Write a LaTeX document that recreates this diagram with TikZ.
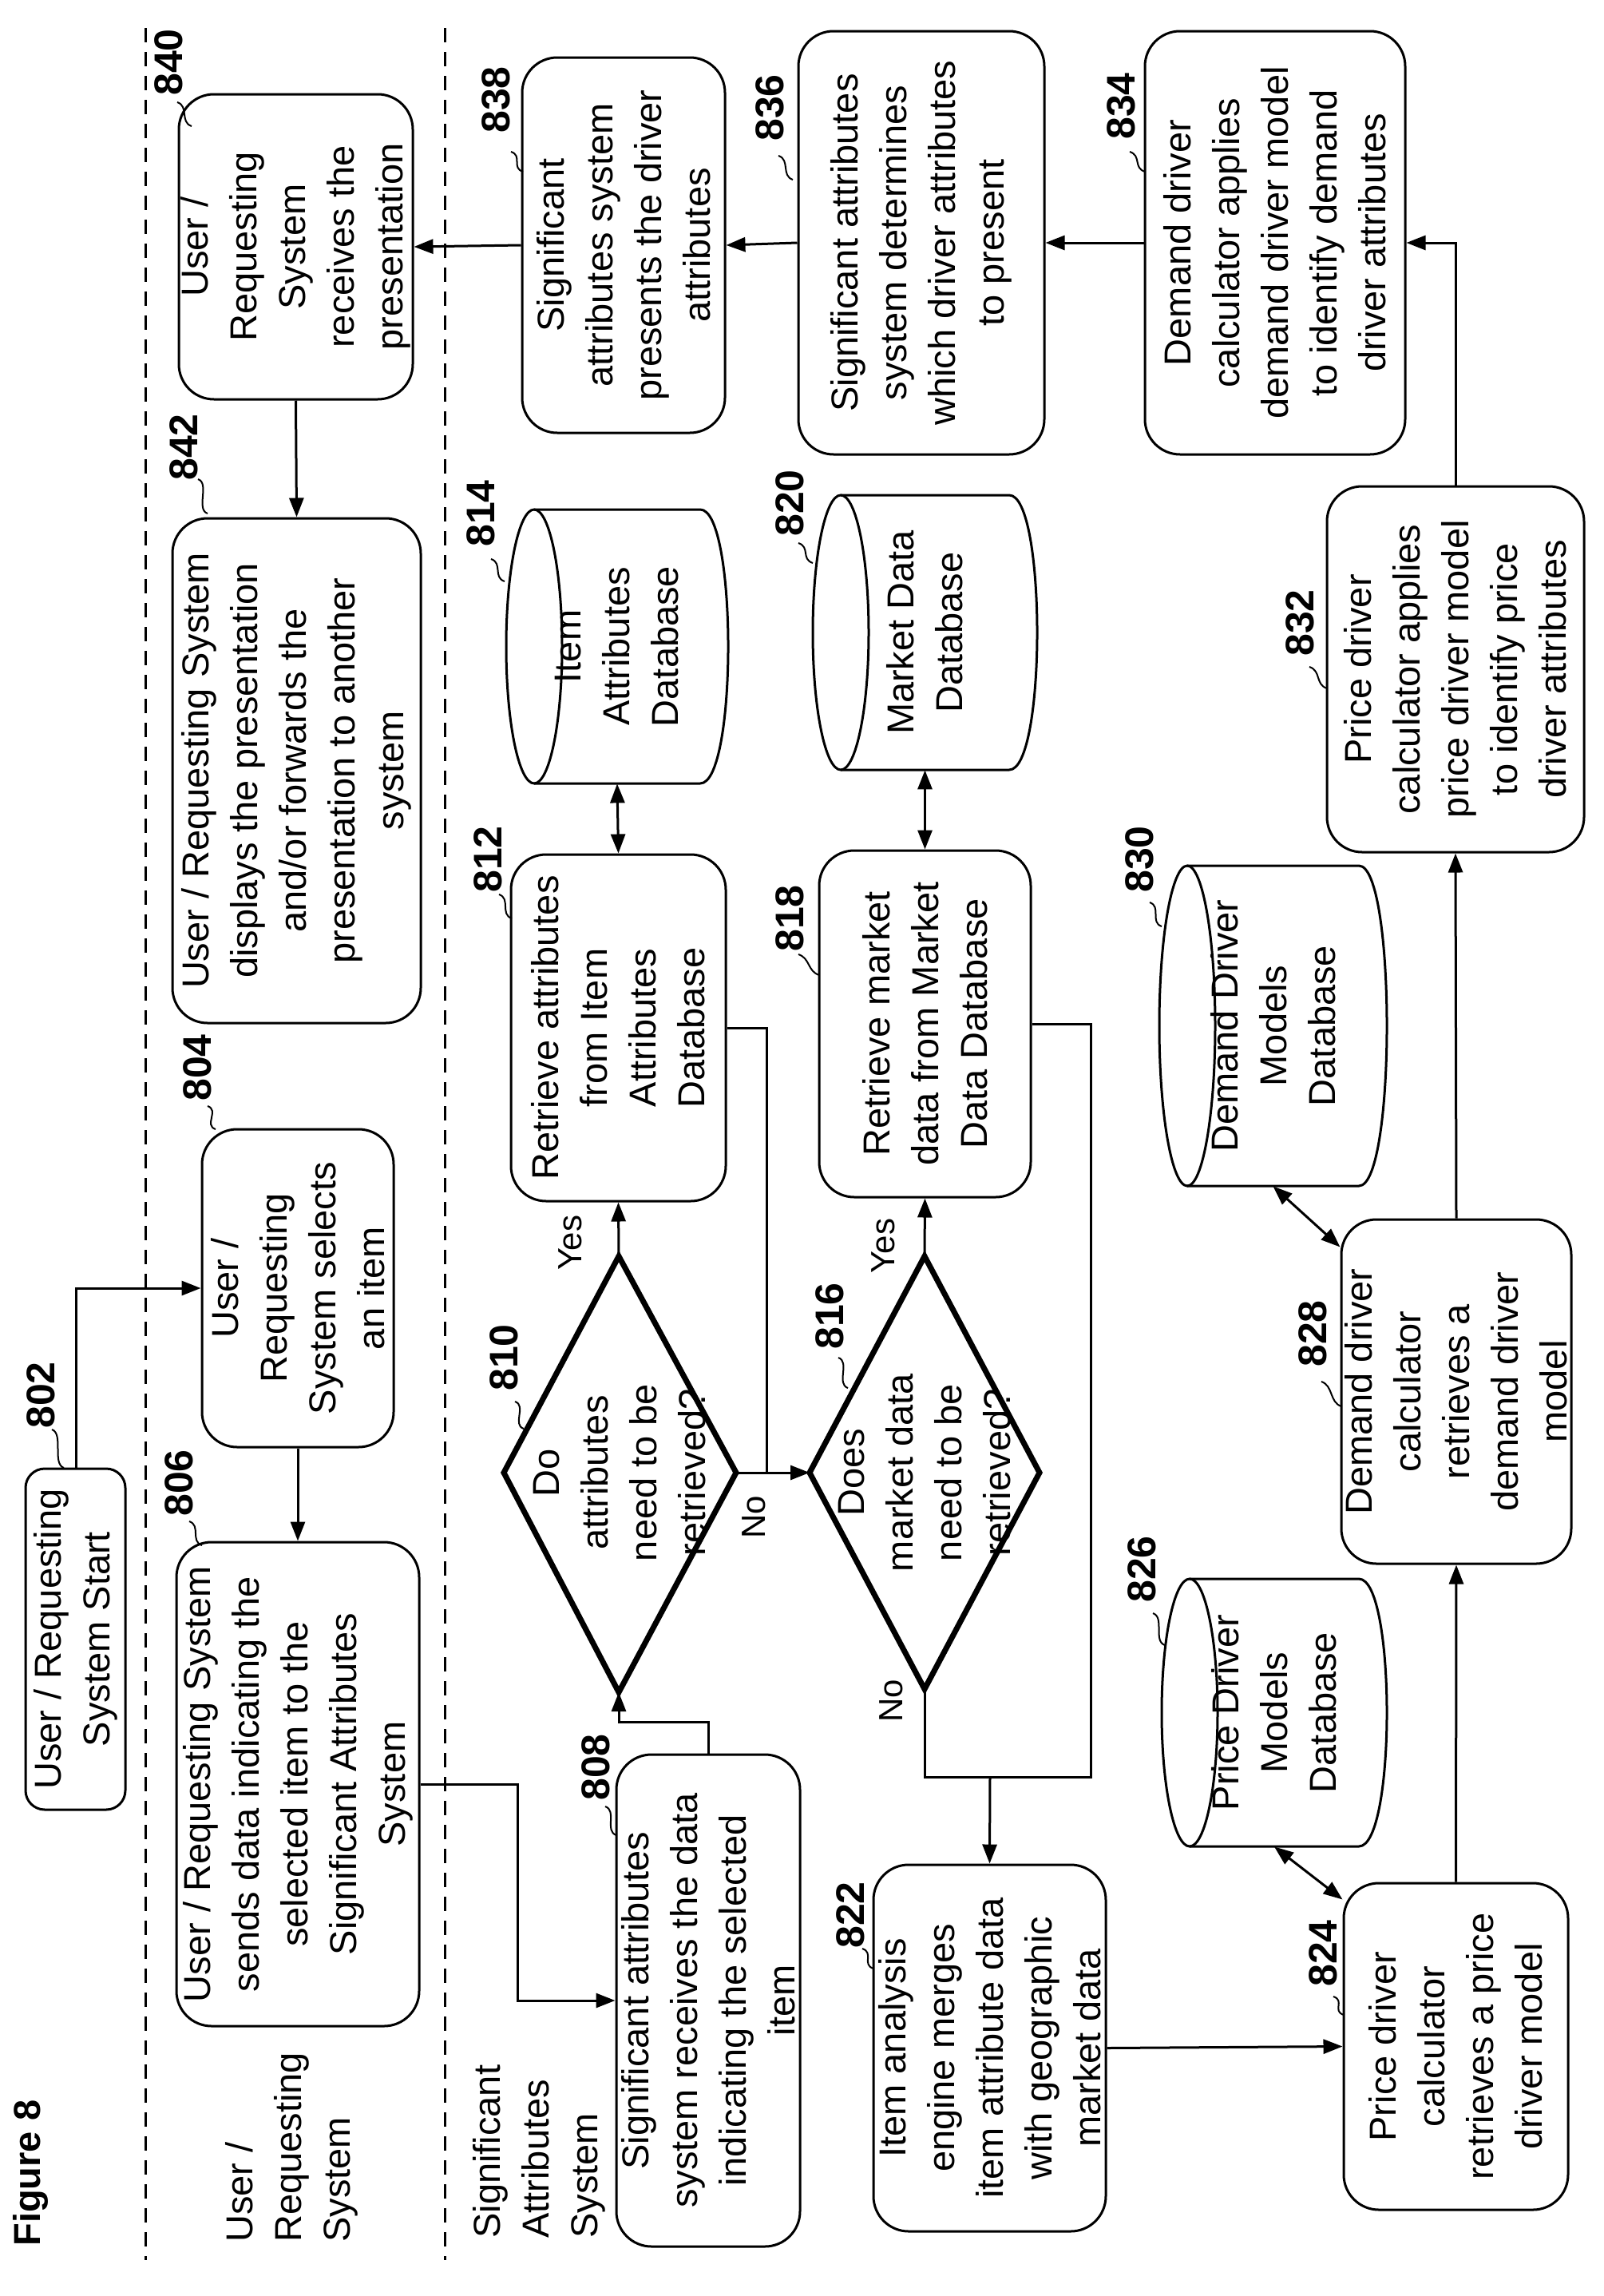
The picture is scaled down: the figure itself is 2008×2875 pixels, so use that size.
\documentclass[tikz,border=0pt]{standalone}
\usepackage{fontspec}
\setmainfont{Liberation Sans}
\usetikzlibrary{arrows.meta}
\begin{document}
\begin{tikzpicture}[x=0.5pt,y=-0.5pt,
  txt/.style={rotate=90, align=center, inner sep=0pt, font=\fontsize{23.5}{30.5}\selectfont},
  box/.style 2 args={txt, draw, line width=1.5pt, rounded corners=22pt, minimum width=#1, minimum height=#2},
  cyl/.style 2 args={txt, minimum width=#1, minimum height=#2},
  num/.style={rotate=90, inner sep=0pt, font=\fontsize{25}{25}\selectfont\bfseries},
  yn/.style={rotate=90, inner sep=0pt, font=\fontsize{21}{21}\selectfont},
  lane/.style={rotate=90, anchor=west, align=left, inner sep=0pt, font=\fontsize{23.5}{30.5}\selectfont},
  ln/.style={line width=1.5pt},
  arr/.style={ln, -{Triangle[length=12pt,width=9pt]}},
  darr/.style={ln, {Triangle[length=12pt,width=9pt]}-{Triangle[length=12pt,width=9pt]}},
  lead/.style={line width=1pt},
  dia/.style={line width=3.5pt, line join=miter},
  laneline/.style={line width=1.5pt, dash pattern=on 9pt off 6pt}
]
\useasboundingbox (0,0) rectangle (2008,2875);
\fill[white] (0,0) rectangle (2008,2875);

% lanes
\draw[laneline] (182,35) -- (182,2830);
\draw[laneline] (557,35) -- (557,2830);
\node[lane, font=\fontsize{23.5}{30.5}\selectfont\bfseries] (fig) at (38,2813) {Figure 8};
\node[lane] (laneU) at (365,2808) {User /\\Requesting\\System};
\node[lane] (laneS) at (675,2803) {Significant\\Attributes\\System};

% boxes
\node[box={191pt}{146.5pt}] (b840) at (370.5,309) {User /\\Requesting\\System\\receives the\\presentation};
\node[box={316pt}{155.5pt}] (b842) at (371.5,965) {User / Requesting System\\displays the presentation\\and/or forwards the\\presentation to another\\system};
\node[box={235pt}{127pt}] (b838) at (781,307) {Significant\\attributes system\\presents the driver\\attributes};
\node[box={265pt}{154pt}] (b836) at (1154,304) {Significant attributes\\system determines\\which driver attributes\\to present};
\node[box={265pt}{163pt}] (b834) at (1597,304) {Demand driver\\calculator applies\\demand driver model\\to identify demand\\driver attributes};
\node[box={229pt}{161pt}] (b832) at (1823,838) {Price driver\\calculator applies\\price driver model\\to identify price\\driver attributes};
\node[box={217pt}{134.5pt}] (b812) at (774.5,1287) {Retrieve attributes\\from Item\\Attributes\\Database};
\node[box={217pt}{132.5pt}] (b818) at (1158.5,1282) {Retrieve market\\data from Market\\Data Database};
\node[box={213.5pt}{62.5pt}, rounded corners=12pt] (b802) at (94.5,2052.5) {User / Requesting\\System Start};
\node[box={199pt}{120pt}] (b804) at (373,1613) {User /\\Requesting\\System selects\\an item};
\node[box={303pt}{152pt}] (b806) at (373,2234) {User / Requesting System\\sends data indicating the\\selected item to the\\Significant Attributes\\System};
\node[box={308pt}{115pt}] (b808) at (887,2505) {Significant attributes\\system receives the data\\indicating the selected\\item};
\node[box={229.5pt}{145.5pt}] (b822) at (1239.5,2564.5) {Item analysis\\engine merges\\item attribute data\\with geographic\\market data};
\node[box={204.5pt}{140.5pt}] (b824) at (1823.5,2562.5) {Price driver\\calculator\\retrieves a price\\driver model};
\node[box={215.5pt}{144pt}] (b828) at (1824,1742.5) {Demand driver\\calculator\\retrieves a\\demand driver\\model};

% cylinders
\newcommand{\dbcyl}[4]{%
  \draw[ln] ({#1+35},#2) -- ({#3-35},#2) .. controls ({#3+11.7},#2) and ({#3+11.7},#4) .. ({#3-35},#4) -- ({#1+35},#4);}
\dbcyl{634}{638}{912}{981}
\draw[ln] (669,809.5) ellipse [x radius=17.5pt, y radius=85.75pt];
\node[cyl={171.5pt}{139pt}] (c814) at (773,809.5) {Item\\Attributes\\Database};
\dbcyl{1018}{620}{1299}{964}
\draw[ln] (1053,792) ellipse [x radius=17.5pt, y radius=86pt];
\node[cyl={172pt}{140.5pt}] (c820) at (1158.5,792) {Market Data\\Database};
\dbcyl{1452}{1084}{1737}{1485}
\draw[ln] (1487,1284.5) ellipse [x radius=17.5pt, y radius=100.25pt];
\node[cyl={200.5pt}{142.5pt}] (c830) at (1594.5,1284.5) {Demand Driver\\Models\\Database};
\dbcyl{1455}{1977}{1737}{2312}
\draw[ln] (1490,2144.5) ellipse [x radius=17.5pt, y radius=83.75pt];
\node[cyl={167.5pt}{141pt}] (c826) at (1596,2144.5) {Price Driver\\Models\\Database};

% diamonds
\coordinate (d1t) at (775,1573); \coordinate (d1r) at (922,1844);
\coordinate (d1b) at (775,2119); \coordinate (d1l) at (631,1844);
\draw[dia] (d1t) -- (d1r) -- (d1b) -- (d1l) -- cycle;
\node[txt] (d810) at (776,1844) {Do\\attributes\\need to be\\retrieved?};
\coordinate (d2t) at (1158,1573); \coordinate (d2r) at (1302,1844);
\coordinate (d2b) at (1158,2115); \coordinate (d2l) at (1014,1844);
\draw[dia] (d2t) -- (d2r) -- (d2b) -- (d2l) -- cycle;
\node[txt] (d816) at (1158,1844) {Does\\market data\\need to be\\retrieved?};

% junction coordinates
\coordinate (j806) at (648,2234);
\coordinate (j808) at (887,2156);
\coordinate (j812) at (960,1844);
\coordinate (j818) at (1366,2225);
\coordinate (j816) at (1158,2225);
\coordinate (j822) at (1240,2225);
\coordinate (j802) at (95,1613);
\coordinate (j832) at (1823,304);

% connectors
\draw[arr] (b802.east -| j802) -- (j802) -- (b804.north);
\draw[arr] (b804.west) -- (b806.east);
\draw[arr] (b806.south) -- (j806) |- (b808.north);
\draw[arr] (b808.east) -- (j808) -| (d1b);
\draw[arr] (d1t) -- (b812.west);
\draw[arr] (d1r) -- (d2l);
\draw[ln] (b812.south) -| (j812);
\draw[arr] (d2t) -- (b818.west);
\draw[ln] (b818.south) -| (j818) -- (j816) -- (d2b);
\draw[arr] (j822) -- (b822.east);
\draw[darr] (b812.east) -- (c814.west);
\draw[darr] (b818.east) -- (c820.west);
\draw[arr] (b822.south) -- (b824.north);
\draw[darr] (c826.west) -- ([yshift=-11pt]b824.north east);
\draw[arr] (b824.east) -- (b828.west);
\draw[darr] (c830.west) -- ([yshift=-18pt]b828.north east);
\draw[arr] (b828.east) -- (b832.west);
\draw[arr] (b832.east) -- (j832) -- (b834.south);
\draw[arr] (b834.north) -- (b836.south);
\draw[arr] (b836.north) -- (b838.south);
\draw[arr] (b838.north) -- (b840.south);
\draw[arr] (b840.west) -- (b842.east);

% yes / no
\node[yn] (y1) at (714,1556) {Yes};
\node[yn] (n1) at (944,1900) {No};
\node[yn] (y2) at (1106,1560) {Yes};
\node[yn] (n2) at (1116,2130) {No};

% reference numbers
\node[num] (n840) at (211,78) {840};
\node[num] (n842) at (230,560) {842};
\node[num] (n838) at (621,125) {838};
\node[num] (n836) at (964,135) {836};
\node[num] (n834) at (1404,133) {834};
\node[num] (n832) at (1628,780) {832};
\node[num] (n814) at (602,643) {814};
\node[num] (n812) at (611,1076) {812};
\node[num] (n820) at (989,630) {820};
\node[num] (n818) at (989,1150) {818};
\node[num] (n830) at (1427,1076) {830};
\node[num] (n802) at (51,1747) {802};
\node[num] (n804) at (247,1337) {804};
\node[num] (n806) at (224,1857) {806};
\node[num] (n808) at (746,2213) {808};
\node[num] (n810) at (631,1700) {810};
\node[num] (n816) at (1039,1648) {816};
\node[num] (n822) at (1065,2398) {822};
\node[num] (n824) at (1657,2446) {824};
\node[num] (n826) at (1430,1965) {826};
\node[num] (n828) at (1644,1670) {828};

\newcommand{\lead}[4]{\draw[lead] (#1,#2) .. controls ({#1+15},{#2+5}) and ({#3-15},{#4-5}) .. (#3,#4);}
\lead{222}{128}{240}{158}
\lead{248}{600}{260}{643}
\lead{640}{190}{655}{215}
\lead{975}{195}{993}{225}
\lead{1415}{190}{1434}{215}
\lead{1640}{835}{1662}{862}
\lead{615}{700}{632}{728}
\lead{625}{1120}{641}{1150}
\lead{1000}{680}{1018}{705}
\lead{1000}{1195}{1026}{1221}
\lead{1440}{1130}{1455}{1160}
\lead{65}{1790}{80}{1838}
\lead{260}{1385}{270}{1414}
\lead{237}{1905}{253}{1935}
\lead{758}{2262}{772}{2298}
\lead{645}{1755}{656}{1789}
\lead{1050}{1700}{1062}{1738}
\lead{1080}{2440}{1094}{2465}
\lead{1670}{2500}{1683}{2523}
\lead{1444}{2020}{1459}{2060}
\lead{1655}{1730}{1680}{1761}
\end{tikzpicture}
\end{document}
